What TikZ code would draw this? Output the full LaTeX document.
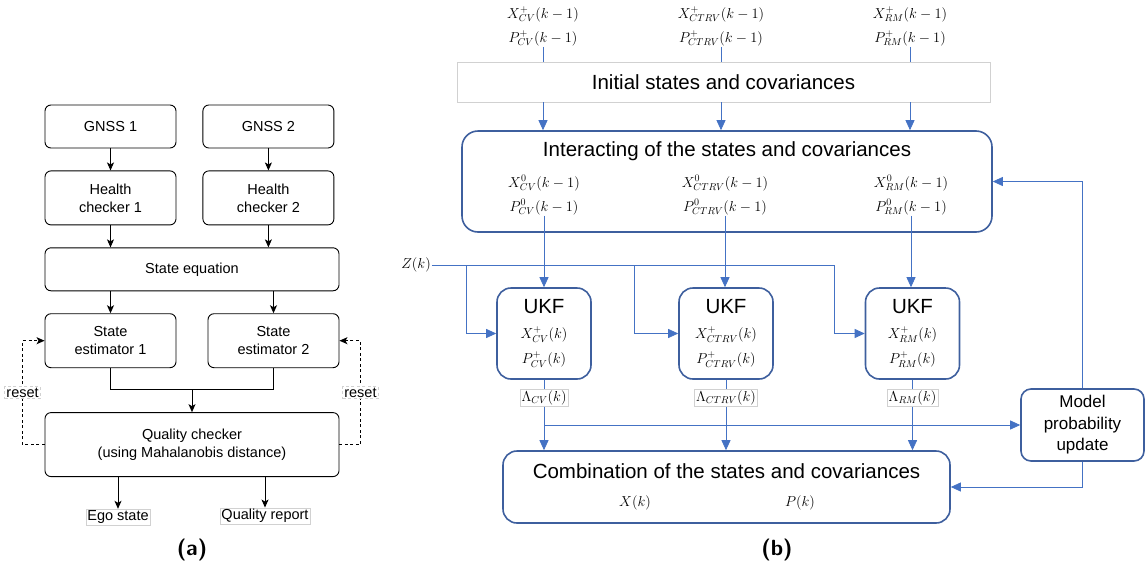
\documentclass[tikz,border=0pt]{standalone}
\usepackage{fontspec}
\setmainfont{Liberation Sans}
\usetikzlibrary{positioning, arrows.meta, calc}
\definecolor{boxblue}{HTML}{3E5F9E}
\definecolor{lineblue}{HTML}{4472C4}

\begin{document}
\begin{tikzpicture}[x=1pt,y=1pt]
      % Define styles for nodes
      \tikzset{
        abox/.style={rectangle, rounded corners=6pt, draw, line width=0.9pt, minimum width=131pt, minimum height=43pt, align=center, inner sep=2pt, font=\fontsize{14.5}{18}\selectfont},
        tallbox/.style={minimum height=54pt},
        tag/.style={draw=black!18, fill=white, inner sep=1.5pt, font=\fontsize{14.5}{17}\selectfont},
        arrA/.style={line width=0.9pt, -{Stealth[length=8pt,width=7pt,inset=2pt]}},
        bbox/.style={rectangle, rounded corners=14pt, draw=boxblue, line width=1.6pt, minimum width=94pt, minimum height=91pt, align=center, inner sep=2pt, font=\fontsize{14.5}{25}\selectfont},
        bigtitle/.style={font=\fontsize{20.5}{24}\selectfont, inner sep=0pt, anchor=base},
        mlbl/.style={align=center, inner sep=1pt, font=\fontsize{14.5}{24}\selectfont},
        ln/.style={draw=lineblue, line width=0.8pt},
        lnarr/.style={ln, -{Triangle[length=10pt,width=9pt]}},
        caption/.style={font=\sffamily\bfseries\fontsize{22}{26}\selectfont}
      }
      \useasboundingbox (0,0) rectangle (1146,-571);

      % (a) GNSS pipeline
      \node[abox] (gnssA) at (110.5,-126.5) {GNSS 1};
      \node[abox, right=26pt of gnssA] (gnssB) {GNSS 2};
      \node[abox, tallbox, below=22pt of gnssA] (hcA) {Health\\checker 1};
      \node[abox, tallbox, below=22pt of gnssB] (hcB) {Health\\checker 2};
      \node[abox, minimum width=294pt, below=22pt of hcA.south west, anchor=north west] (steq) {State equation};
      \node[abox, tallbox, below=22pt of steq.south west, anchor=north west] (estA) {State\\estimator 1};
      \node[abox, tallbox, below=22pt of steq.south east, anchor=north east] (estB) {State\\estimator 2};
      \node[abox, minimum width=294pt, minimum height=64pt, below=44pt of estA.south west, anchor=north west] (qc) {Quality checker\\(using Mahalanobis distance)};
      \node[tag] (ego) at (118,-517) {Ego state};
      \node[tag] (qrep) at (265,-516) {Quality report};

      \draw[arrA] (gnssA) -- (hcA);
      \draw[arrA] (gnssB) -- (hcB);
      \draw[arrA] (hcA) -- (hcA |- steq.north);
      \draw[arrA] (hcB) -- (hcB |- steq.north);
      \draw[arrA] (estA |- steq.south) -- (estA);
      \draw[arrA] (estB |- steq.south) -- (estB);
      \draw[line width=0.9pt] (estA.south) -- ++(0,-21pt) coordinate (join) -| (estB.south);
      \draw[arrA] (join -| qc.north) -- (qc.north);
      \draw[arrA] (qc.south -| ego) -- (ego.north);
      \draw[arrA] (qc.south -| qrep) -- (qrep.north);
      \draw[arrA, dash pattern=on 3pt off 2.5pt] (qc.west) -- ++(-22pt,0) |- node[tag, pos=0.25] (resetA) {reset} (estA.west);
      \draw[arrA, dash pattern=on 3pt off 2.5pt] (qc.east) -- ++(21pt,0) |- node[tag, pos=0.25] (resetB) {reset} (estB.east);

      \node[caption] (capa) at (192,-550) {(a)};

      % (b) IMM with three UKFs
      \node[mlbl] (topcv) at (543,-26) {$X^{+}_{CV}(k-1)$\\$P^{+}_{CV}(k-1)$};
      \node[mlbl] (topctrv) at (721,-26) {$X^{+}_{CTRV}(k-1)$\\$P^{+}_{CTRV}(k-1)$};
      \node[mlbl] (toprm) at (910,-26) {$X^{+}_{RM}(k-1)$\\$P^{+}_{RM}(k-1)$};
      \node[draw=black!18, line width=0.6pt, minimum width=533pt, minimum height=40pt, font=\fontsize{20.5}{24}\selectfont] (init) at (723.5,-82) {Initial states and covariances};

      \node[bbox, rounded corners=16pt, minimum width=530pt, minimum height=101pt] (inter) at (727,-181.5) {};
      \node[bigtitle] (intertitle) at (727,-156.5) {Interacting of the states and covariances};
      \node[mlbl] (icv) at (544,-195) {$X^{0}_{CV}(k-1)$\\$P^{0}_{CV}(k-1)$};
      \node[mlbl] (ictrv) at (725,-195) {$X^{0}_{CTRV}(k-1)$\\$P^{0}_{CTRV}(k-1)$};
      \node[mlbl] (irm) at (911,-195) {$X^{0}_{RM}(k-1)$\\$P^{0}_{RM}(k-1)$};

      \node[mlbl] (zk) at (416,-265) {$Z(k)$};
      \node[bbox] (ukfcv) at (544,-333.5) {{\fontsize{20.5}{24}\selectfont UKF}\\$X^{+}_{CV}(k)$\\$P^{+}_{CV}(k)$};
      \node[bbox] (ukfctrv) at (726,-333.5) {{\fontsize{20.5}{24}\selectfont UKF}\\$X^{+}_{CTRV}(k)$\\$P^{+}_{CTRV}(k)$};
      \node[bbox] (ukfrm) at (912.5,-333.5) {{\fontsize{20.5}{24}\selectfont UKF}\\$X^{+}_{RM}(k)$\\$P^{+}_{RM}(k)$};
      \node[tag, font=\fontsize{14.5}{17}\selectfont, below=9pt of ukfcv] (lamcv) {$\Lambda_{CV}(k)$};
      \node[tag, font=\fontsize{14.5}{17}\selectfont, below=9pt of ukfctrv] (lamctrv) {$\Lambda_{CTRV}(k)$};
      \node[tag, font=\fontsize{14.5}{17}\selectfont, below=9pt of ukfrm] (lamrm) {$\Lambda_{RM}(k)$};

      \node[bbox, rounded corners=10pt, minimum width=123pt, minimum height=72pt, font=\fontsize{17}{21.5}\selectfont] (model) at (1082.5,-425) {Model\\probability\\update};
      \node[bbox, rounded corners=14pt, minimum width=447pt, minimum height=72pt] (comb) at (726.5,-487) {};
      \node[bigtitle] (combtitle) at (726.5,-478.5) {Combination of the states and covariances};
      \node[mlbl] (xk) at (635,-503) {$X(k)$};
      \node[mlbl] (pk) at (800,-503) {$P(k)$};

      % Draw the connectors
      \foreach \col in {cv, ctrv, rm} {
        \draw[ln] (top\col.south) -- (top\col.south |- init.north);
        \draw[lnarr] (init.south -| top\col) -- (inter.north -| top\col);
        \draw[lnarr] (i\col.south) -- (i\col.south |- ukf\col.north);
        \draw[ln] (ukf\col.south) -- (lam\col.north);
        \draw[lnarr] (lam\col.south) -- (lam\col.south |- comb.north);
      }
      \coordinate (zcv) at ([xshift=-30pt]ukfcv.west);
      \coordinate (zctrv) at ([xshift=-44pt]ukfctrv.west);
      \coordinate (zrm) at ([xshift=-30pt]ukfrm.west);
      \draw[lnarr] (zk.east) -| (zrm) -- (ukfrm.west);
      \draw[lnarr] (zcv |- zk.east) -- (zcv) -- (ukfcv.west);
      \draw[lnarr] (zctrv |- zk.east) -- (zctrv) -- (ukfctrv.west);
      \draw[lnarr] (lamcv.south |- model.west) -- (model.west);
      \draw[lnarr] (model.north) |- (inter.east);
      \draw[lnarr] (model.south) |- (comb.east);

      \node[caption] (capb) at (777,-550) {(b)};
\end{tikzpicture}
\end{document}
